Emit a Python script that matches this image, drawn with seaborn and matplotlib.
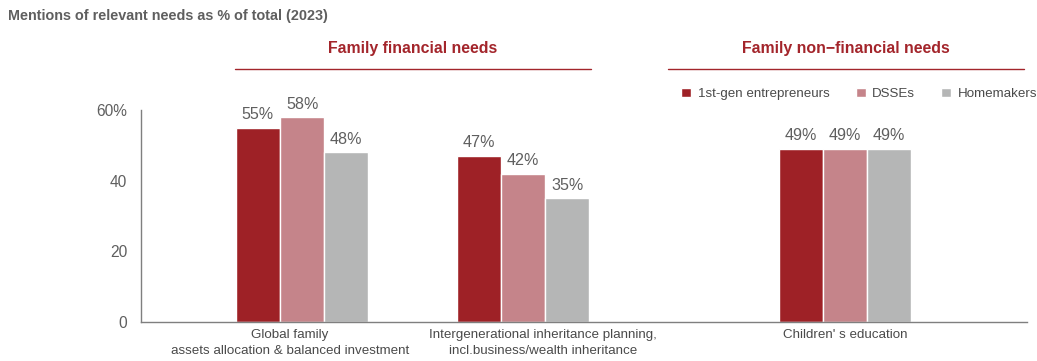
import numpy as np
import pandas as pd
import seaborn as sns
import matplotlib.pyplot as plt
from matplotlib.transforms import blended_transform_factory, ScaledTranslation

# ---- data ----
categories = [
    "Global family\nassets allocation & balanced investment",
    "Intergenerational inheritance planning,\nincl.business/wealth inheritance",
    "Children' s education",
]
segments = ["1st-gen entrepreneurs", "DSSEs", "Homemakers"]
entrepreneurs = [55, 47, 49]
dsses = [58, 42, 49]
homemakers = [48, 35, 49]
group_titles = ["Family financial needs", "Family non\u2212financial needs"]
title = "Mentions of relevant needs as % of total (2023)"

# ---- layout ----
cat_pos = [0.0, 1.0, 2.457]          # extra gap before the non-financial group
label_shift_px = [-12, 20, 0]        # nudge long category labels apart
colors = ["#9E2126", "#C5848A", "#B5B6B6"]
text_gray = "#5F5F5F"
red = "#A3252B"

rows = []
for seg, vals in zip(segments, [entrepreneurs, dsses, homemakers]):
    for p, v in zip(cat_pos, vals):
        rows.append({"pos": p, "value": v, "segment": seg})
df = pd.DataFrame(rows)

sns.set_theme(style="white")
plt.rcParams["font.family"] = ["Liberation Sans", "DejaVu Sans"]

fig = plt.figure(figsize=(10.37, 3.61), dpi=100)
ax = fig.add_axes([0.136, 0.108, 0.854, 0.587])

sns.barplot(data=df, x="pos", y="value", hue="segment", hue_order=segments,
            palette=colors, native_scale=True, width=0.6, ax=ax,
            edgecolor="white", linewidth=1, saturation=1, errorbar=None)

for cont in ax.containers:
    ax.bar_label(cont, labels=[f"{v:.0f}%" for v in cont.datavalues],
                 padding=4, fontsize=11.6, color=text_gray, clip_on=False)

ax.set_xlim(-0.729, 3.28)
ax.set_ylim(0, 60)
ax.set_yticks([0, 20, 40, 60])
ax.set_yticklabels(["0", "20", "40", "60%"], fontsize=11.2, color=text_gray)
ax.set_xticks(cat_pos)
ax.set_xticklabels([])
ax.tick_params(axis="x", length=0)
ax.tick_params(axis="y", length=0, pad=10)
ax.set_xlabel("")
ax.set_ylabel("")
for s in ["top", "right"]:
    ax.spines[s].set_visible(False)
for s in ["left", "bottom"]:
    ax.spines[s].set_color("#7F7F7F")
    ax.spines[s].set_linewidth(1)

# category labels under each group, nudged so the long ones do not collide
tr = blended_transform_factory(ax.transData, ax.transAxes)
for p, name, dx in zip(cat_pos, categories, label_shift_px):
    off = ScaledTranslation(dx / 100, -5 / 72, fig.dpi_scale_trans)
    ax.text(p, 0, name, transform=tr + off, ha="center", va="top",
            fontsize=9.6, color="#4A4A4A", linespacing=1.5,
            multialignment="center")

# group headers with rules beneath
spans = [(-0.303, 1.308), (1.656, 3.267)]
for (x0, x1), name in zip(spans, group_titles):
    ax.plot([x0, x1], [1.193, 1.193], transform=tr, color=red, lw=1,
            clip_on=False)
    ax.text((x0 + x1) / 2, 1.29, name, transform=tr, ha="center",
            va="center", fontsize=11.4, fontweight="bold", color=red)

leg = ax.legend(loc="center right", bbox_to_anchor=(1.003, 0.74),
                bbox_transform=fig.transFigure, ncol=3,
                frameon=False, fontsize=9.6, handlelength=0.75,
                handleheight=0.75, handletextpad=0.5, columnspacing=1.95,
                labelcolor="#4A4A4A", borderaxespad=0.1, borderpad=0.1)

fig.text(0.008, 0.955, title, fontsize=10.4, fontweight="bold",
         color=text_gray, ha="left", va="center")

fig.savefig("out.png", dpi=100)
